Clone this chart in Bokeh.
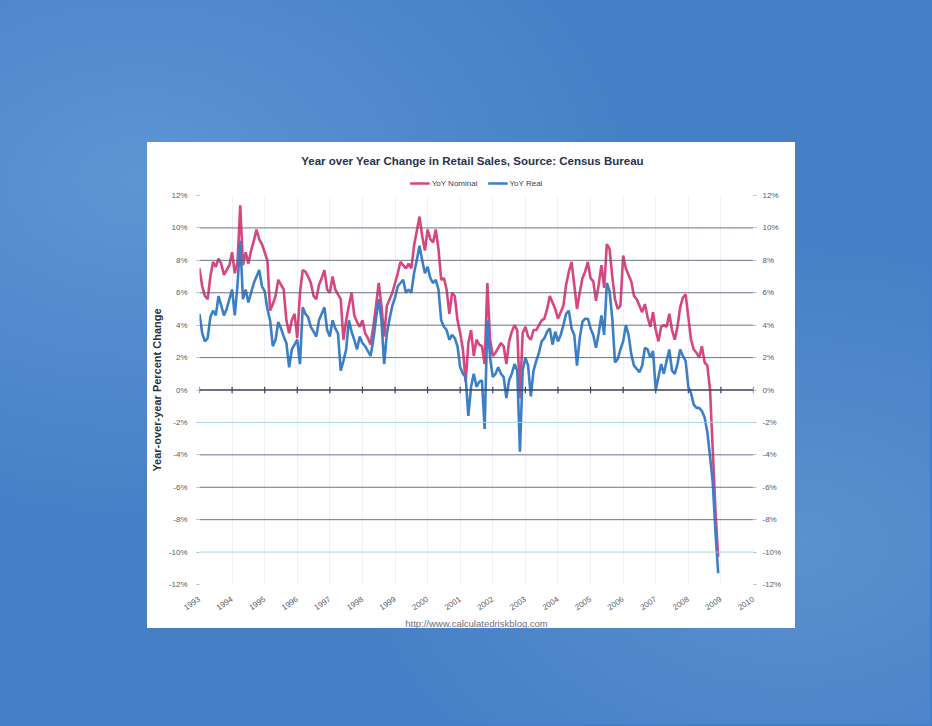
from bokeh.plotting import figure
from bokeh.models import (Range1d, LinearAxis, FixedTicker, PrintfTickFormatter,
                          Legend, LegendItem, Title, Spacer, Span, Label)
from bokeh.layouts import column, row
from bokeh.embed import file_html
from bokeh.resources import INLINE

# ---------------- data ----------------
start_year = 1993
year_ticks = list(range(1993, 2011))
y_ticks = list(range(-12, 13, 2))
grid_dark = [-8, -6, -4, 2, 4, 6, 8, 10]
grid_light = [-10, -2]

# YoY Nominal, monthly Jan 1993 .. Dec 2008 (percent)
nominal = [
    7.5, 6.4, 5.8, 5.6, 7.0, 7.9, 7.6, 8.1, 7.8, 7.1, 7.4, 7.7,      # 1993
    8.5, 7.2, 7.9, 11.4, 7.7, 8.5, 7.8, 8.6, 9.2, 9.9, 9.3, 9.0,     # 1994
    8.5, 8.0, 4.9, 5.3, 5.8, 6.8, 6.5, 6.2, 4.3, 3.5, 4.3, 4.7,      # 1995
    3.2, 6.0, 7.4, 7.3, 7.0, 6.6, 5.8, 5.6, 6.5, 6.9, 7.4, 6.2,      # 1996
    6.0, 7.0, 6.2, 5.9, 5.6, 3.1, 4.3, 5.2, 6.0, 4.6, 4.2, 3.9,      # 1997
    4.3, 3.5, 3.2, 2.8, 3.9, 5.2, 6.6, 5.2, 3.3, 5.2, 5.6, 6.0,      # 1998
    6.6, 7.2, 7.9, 7.7, 7.5, 7.8, 7.5, 8.9, 9.8, 10.7, 9.5, 8.6,     # 1999
    9.9, 9.3, 9.1, 9.9, 8.7, 6.8, 6.9, 6.2, 4.7, 6.0, 5.8, 4.3,      # 2000
    3.5, 2.5, 0.5, 2.9, 3.7, 2.1, 3.1, 2.8, 2.7, 1.6, 6.6, 3.1,      # 2001
    2.1, 2.3, 2.6, 2.9, 2.7, 1.6, 3.0, 3.6, 4.0, 3.7, -0.5, 3.5,     # 2002
    3.9, 3.3, 3.1, 3.7, 3.7, 4.0, 4.3, 4.4, 5.0, 5.8, 5.4, 5.0,      # 2003
    4.4, 4.8, 5.2, 6.5, 7.3, 7.9, 6.5, 5.0, 6.0, 6.9, 7.3, 7.9,      # 2004
    6.9, 6.7, 5.5, 6.5, 7.7, 6.3, 9.0, 8.7, 7.0, 5.6, 5.0, 5.2,      # 2005
    8.3, 7.5, 7.1, 6.7, 5.8, 5.6, 5.2, 4.8, 5.3, 4.5, 3.9, 4.8,      # 2006
    3.7, 3.0, 3.9, 4.0, 3.9, 4.7, 3.7, 3.1, 3.9, 5.1, 5.7, 5.9,      # 2007
    4.5, 3.1, 2.5, 2.3, 2.0, 2.7, 1.7, 1.5, 0.0, -3.7, -7.5, -10.3,  # 2008
]

# YoY Real, monthly Jan 1993 .. Dec 2008 (percent)
real = [
    4.7, 3.5, 3.0, 3.2, 4.5, 4.9, 4.6, 5.8, 5.2, 4.6, 5.0, 5.6,      # 1993
    6.2, 4.6, 6.5, 9.2, 5.6, 6.2, 5.4, 6.0, 6.6, 7.0, 7.4, 6.4,      # 1994
    6.1, 5.0, 4.3, 2.7, 3.1, 4.2, 3.8, 3.3, 2.9, 1.4, 2.5, 2.8,      # 1995
    3.1, 1.6, 5.1, 4.7, 4.5, 3.9, 3.6, 3.3, 4.3, 4.7, 5.1, 3.7,      # 1996
    3.3, 4.3, 3.8, 3.5, 1.2, 1.8, 2.5, 4.3, 3.6, 3.1, 2.5, 3.3,      # 1997
    2.9, 2.7, 2.4, 2.1, 3.1, 4.4, 5.6, 4.3, 1.6, 3.5, 4.4, 5.2,      # 1998
    5.7, 6.4, 6.6, 6.8, 6.0, 6.2, 6.0, 7.2, 8.0, 8.9, 8.0, 7.2,      # 1999
    7.6, 6.9, 6.6, 6.8, 6.2, 4.3, 3.9, 3.7, 3.1, 3.4, 3.2, 2.7,      # 2000
    1.4, 1.0, 0.8, -1.6, 0.2, 1.0, 0.2, 0.5, 0.6, -2.4, 4.3, 2.0,    # 2001
    0.8, 1.0, 1.4, 1.0, 0.8, -0.5, 0.6, 1.0, 1.6, 1.2, -3.8, 1.2,    # 2002
    2.0, 1.5, -0.4, 1.2, 1.8, 2.3, 3.0, 3.2, 3.6, 3.8, 2.8, 3.6,     # 2003
    3.0, 3.4, 4.0, 4.7, 4.9, 3.8, 3.4, 1.5, 3.2, 4.2, 4.4, 4.4,      # 2004
    3.8, 3.4, 2.6, 3.5, 4.6, 3.4, 6.6, 6.1, 4.4, 1.7, 1.9, 2.5,      # 2005
    3.0, 4.0, 3.4, 2.2, 1.5, 1.3, 1.1, 1.5, 2.6, 2.5, 2.0, 2.4,      # 2006
    0.0, 0.8, 1.6, 1.0, 1.8, 2.5, 1.2, 1.0, 1.6, 2.5, 2.1, 1.8,      # 2007
    0.2, -0.2, -0.9, -1.1, -1.1, -1.3, -1.7, -2.6, -4.1, -5.7, -8.8, -11.3,  # 2008
]

months = [start_year + i / 12.0 for i in range(len(nominal))]

TITLE = "Year over Year Change in Retail Sales, Source: Census Bureau"
Y_LABEL = "Year-over-year Percent Change"
SOURCE = "http://www.calculatedriskblog.com"
SERIES = ["YoY Nominal", "YoY Real"]

FONT = "Liberation Sans"
RED = "#d8467f"
BLUE = "#3b80c6"
BG = "#4580c6"
LW = 2.6
NAN = float("nan")

# ---------------- header (title + legend) ----------------
head = figure(width=648, height=46, x_range=Range1d(0, 1), y_range=Range1d(0, 1),
              output_backend="svg", toolbar_location=None, title=None,
              x_axis_type=None, y_axis_type=None,
              min_border_left=50, min_border_right=42,
              min_border_top=0, min_border_bottom=0,
              background_fill_color="white", border_fill_color="white",
              outline_line_color=None)
head.xgrid.visible = False
head.ygrid.visible = False
head.add_layout(Label(x=273, y=28, x_units="screen", y_units="screen", text=TITLE,
                      text_align="center", text_baseline="middle", text_font=FONT,
                      text_font_size="11.5px", text_font_style="bold", text_color="#283250"))
h_nom = head.line([NAN], [NAN], line_color=RED, line_width=LW)
h_real = head.line([NAN], [NAN], line_color=BLUE, line_width=LW)
legend = Legend(items=[LegendItem(label=SERIES[0], renderers=[h_nom]),
                       LegendItem(label=SERIES[1], renderers=[h_real])],
                orientation="horizontal", location="bottom",
                label_text_font=FONT, label_text_font_size="8px",
                label_text_color="#3a3f50", glyph_width=20, glyph_height=10,
                label_height=10, label_standoff=2, spacing=10,
                padding=2, margin=0, border_line_color=None,
                background_fill_alpha=0)
head.add_layout(legend, "center")

# ---------------- main chart ----------------
p = figure(width=648, height=440,
           x_range=Range1d(1993, 2010), y_range=Range1d(-12, 12),
           output_backend="svg", toolbar_location=None, title=None,
           min_border_left=50, min_border_right=42,
           min_border_top=7, min_border_bottom=43,
           background_fill_color="white", border_fill_color="white",
           outline_line_color=None)

# grids: faint verticals, horizontal lines drawn as spans (dark / light cyan)
p.ygrid.visible = False
p.xgrid.ticker = FixedTicker(ticks=year_ticks)
p.xgrid.grid_line_color = "#eef1f5"
p.xgrid.grid_line_width = 1
for lv in grid_dark:
    p.add_layout(Span(location=lv, dimension="width", line_color="#565b76",
                      line_alpha=0.85, line_width=1))
for lv in grid_light:
    p.add_layout(Span(location=lv, dimension="width", line_color="#9fd0e2",
                      line_alpha=0.9, line_width=1))

# zero axis line with year tick marks
p.add_layout(Span(location=0, dimension="width", line_color="#3b405c", line_width=1.6))
p.segment(x0=year_ticks, y0=[-0.2] * len(year_ticks), x1=year_ticks, y1=[0.2] * len(year_ticks),
          line_color="#3b405c", line_width=1.2)

# series
p.line(months, nominal, line_color=RED, line_width=LW)
p.line(months, real, line_color=BLUE, line_width=LW)

# x axis (labels only, below)
xa = p.xaxis[0]
xa.ticker = FixedTicker(ticks=year_ticks)
xa.formatter = PrintfTickFormatter(format="%d")
xa.axis_line_color = None
xa.major_tick_line_color = None
xa.minor_tick_line_color = None
xa.major_label_orientation = 0.6
xa.major_label_text_font = FONT
xa.major_label_text_font_size = "8px"
xa.major_label_text_color = "#555a66"
xa.major_label_standoff = 8

# y axes
def style_y(ax):
    ax.ticker = FixedTicker(ticks=y_ticks)
    ax.formatter = PrintfTickFormatter(format="%d%%")
    ax.axis_line_color = None
    ax.major_tick_line_color = "#b8bcc6"
    ax.major_tick_out = 3
    ax.major_tick_in = 0
    ax.minor_tick_line_color = None
    ax.major_label_text_font = FONT
    ax.major_label_text_font_size = "8px"
    ax.major_label_text_color = "#555a66"

ya = p.yaxis[0]
style_y(ya)
ya.major_label_standoff = 9
ya.axis_label = Y_LABEL
ya.axis_label_text_font = FONT
ya.axis_label_text_font_size = "11px"
ya.axis_label_text_font_style = "bold"
ya.axis_label_text_color = "#2a2e3c"
ya.axis_label_standoff = 3

yr = LinearAxis()
style_y(yr)
yr.major_label_standoff = 6
p.add_layout(yr, "right")

p.add_layout(Title(text=SOURCE, align="center", text_font=FONT, text_font_size="9.5px",
                   text_font_style="normal", text_color="#6a6f7c", standoff=0), "below")

chart = column(head, p, spacing=0, styles={"background-color": "white"})
page = column(Spacer(height=142, width=930),
              row(Spacer(width=147, height=486), chart, spacing=0),
              width=930, height=724, spacing=0,
              styles={"background": "radial-gradient(ellipse at 15% 25%, #5d95d4 0%, rgba(0,0,0,0) 45%), "
                                    "radial-gradient(ellipse at 85% 75%, #5a91cf 0%, rgba(0,0,0,0) 40%), "
                                    + BG})

html = file_html(page, INLINE)
html = html.replace("</head>", "<style>html, body { background-color: %s; }</style></head>" % BG, 1)
open("out.html", "w").write(html)
